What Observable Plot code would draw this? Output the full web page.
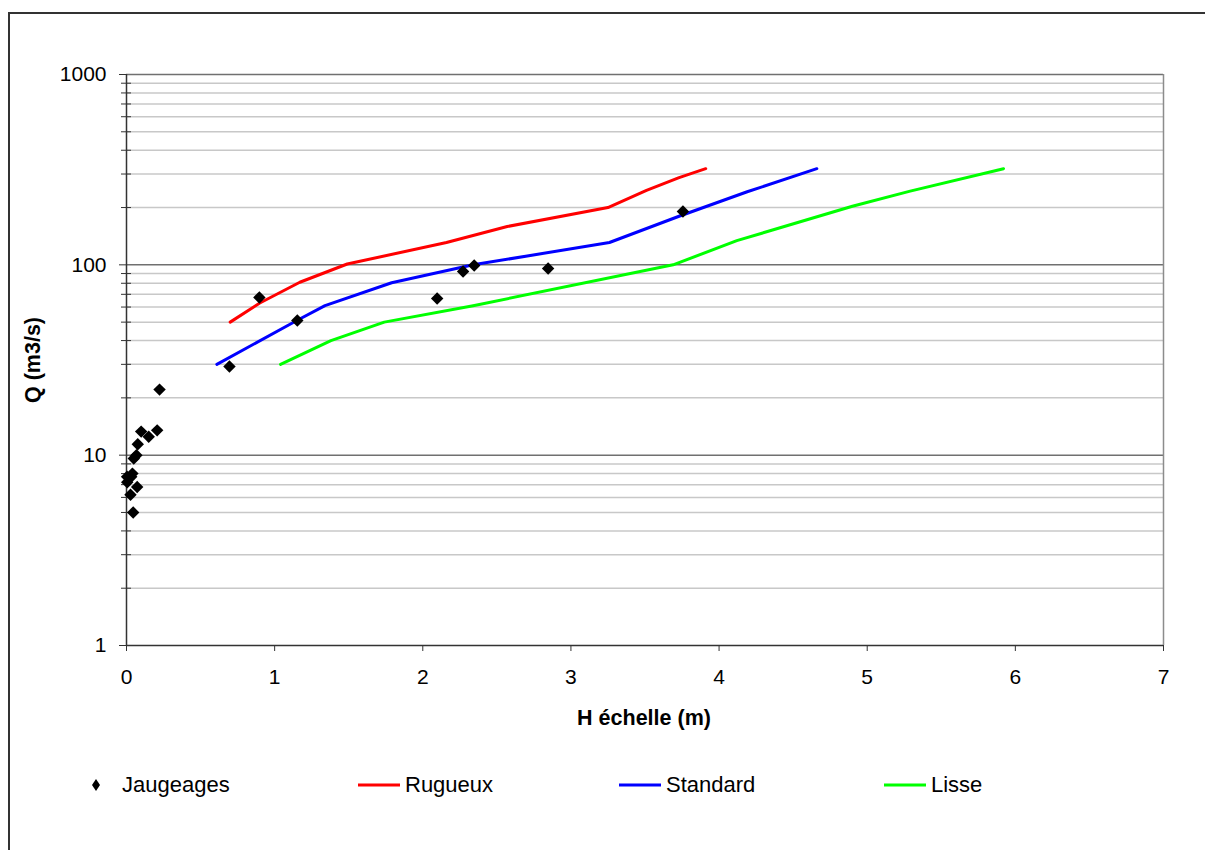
<!DOCTYPE html>
<html>
<head>
<meta charset="utf-8">
<script src="https://cdn.jsdelivr.net/npm/d3@7"></script>
<script src="https://cdn.jsdelivr.net/npm/@observablehq/plot@0.6"></script>
<style>
  body { margin: 0; background: #fff; font-family: "Liberation Sans", Arial, sans-serif; }
  #frame { position: absolute; left: 8px; top: 12px; width: 1300px; height: 900px;
           border-left: 2px solid #333; border-top: 2px solid #333; }
  #chart { position: absolute; left: 0; top: 0; }
  .axtitle { position: absolute; font-weight: bold; font-size: 21.5px; color: #000; white-space: nowrap; }
  #xlabel { left: 644px; top: 718px; transform: translate(-50%, -50%); }
  #ylabel { left: 33px; top: 360px; transform: translate(-50%, -50%) rotate(-90deg); }
  #legend { position: absolute; left: 0; top: 771px; width: 1205px; height: 28px; font-size: 22px; }
  .item { position: absolute; top: 0; height: 28px; display: flex; align-items: center; }
  .item svg { display: block; }
</style>
</head>
<body>
<div id="frame"></div>
<div id="chart"></div>
<div id="xlabel" class="axtitle"></div>
<div id="ylabel" class="axtitle"></div>
<div id="legend"></div>
<script>
// ---- Data ----
const xTitle = "H échelle (m)";
const yTitle = "Q (m3/s)";
const xTicks = [0, 1, 2, 3, 4, 5, 6, 7];
const yTicks = [1, 10, 100, 1000];

const jaugeH = [0.897, 1.153, 0.695, 2.097, 2.272, 2.347, 2.846, 3.756, 0.223, 0.207, 0.150, 0.099, 0.076, 0.067, 0.049, 0.032, 0.004, 0.005, 0.040, 0.072, 0.027, 0.045];
const jaugeQ = [67.4, 51, 29.2, 66.6, 92.3, 99.3, 95.7, 190.8, 22.1, 13.5, 12.5, 13.3, 11.4, 10.0, 9.6, 7.7, 7.7, 7.2, 8.0, 6.8, 6.2, 5.0];

const rugueuxH = [0.70, 0.90, 1.17, 1.49, 2.16, 2.57, 3.25, 3.51, 3.73, 3.91];
const rugueuxQ = [50, 63, 81, 101, 131, 159, 200, 246, 287, 320];

const standardH = [0.61, 1.15, 1.34, 1.79, 2.34, 3.26, 3.73, 4.19, 4.66];
const standardQ = [30, 51, 61, 80.5, 100, 131, 180, 242, 320];

const lisseH = [1.04, 1.38, 1.74, 2.34, 3.69, 4.12, 4.90, 5.29, 5.92];
const lisseQ = [30, 40, 50, 61, 100, 134, 203, 244, 320];

const seriesNames = ["Jaugeages", "Rugueux", "Standard", "Lisse"];
const seriesColors = ["#000000", "#ff0000", "#0000ff", "#00ff00"];

// ---- Build tables ----
const toRows = (H, Q) => H.map((h, i) => ({h, q: Q[i]}));
const jauge = toRows(jaugeH, jaugeQ);
const rug = toRows(rugueuxH, rugueuxQ);
const std = toRows(standardH, standardQ);
const lis = toRows(lisseH, lisseQ);

const minor = [];
for (const d of [1, 10, 100]) for (let k = 2; k <= 9; k++) minor.push(k * d);
const major = [10, 100, 1000];

const chart = Plot.plot({
  width: 1205,
  height: 740,
  marginLeft: 126,
  marginRight: 42,
  marginTop: 74,
  marginBottom: 95,
  x: {domain: [0, 7]},
  y: {type: "log", domain: [1, 1000]},
  style: {fontFamily: "Liberation Sans, Arial, sans-serif", fontSize: "21px", color: "#000", background: "transparent", overflow: "visible"},
  marks: [
    Plot.ruleY(minor, {stroke: "#c8c8c8", strokeWidth: 1.5}),
    Plot.ruleY(major, {stroke: "#707070", strokeWidth: 1.5}),
    Plot.ruleX([7], {stroke: "#8c8c8c", strokeWidth: 1.5}),
    Plot.axisY({ticks: minor, tickSize: 10, dx: 5, tickFormat: () => "", label: null, stroke: "#333"}),
    Plot.axisY({ticks: yTicks, tickSize: 7, tickPadding: 13, tickFormat: d => String(d), label: null, stroke: "#333", fill: "#000"}),
    Plot.axisX({ticks: xTicks, tickSize: 6, tickPadding: 18, tickFormat: d => String(d), label: null, stroke: "#333", fill: "#000"}),
    Plot.ruleX([0], {stroke: "#333", strokeWidth: 1.5}),
    Plot.ruleY([1], {stroke: "#333", strokeWidth: 1.5}),
    Plot.line(rug, {x: "h", y: "q", stroke: seriesColors[1], strokeWidth: 3}),
    Plot.line(std, {x: "h", y: "q", stroke: seriesColors[2], strokeWidth: 3}),
    Plot.line(lis, {x: "h", y: "q", stroke: seriesColors[3], strokeWidth: 3}),
    Plot.dot(jauge, {x: "h", y: "q", symbol: "diamond2", r: 5.6, fill: seriesColors[0], stroke: "none"})
  ]
});
document.getElementById("chart").appendChild(chart);
document.getElementById("xlabel").textContent = xTitle;
document.getElementById("ylabel").textContent = yTitle;

// ---- Legend ----
const legend = document.getElementById("legend");
const keyLeft = [88, 358, 619, 884];
seriesNames.forEach((name, i) => {
  const item = document.createElement("div");
  item.className = "item";
  item.style.left = keyLeft[i] + "px";
  let sw;
  if (i === 0) {
    sw = `<svg width="34" height="20"><path d="M8,4 L12,10 L8,16 L4,10 Z" fill="${seriesColors[0]}"/></svg>`;
  } else {
    sw = `<svg width="47" height="20"><line x1="0" y1="10" x2="42" y2="10" stroke="${seriesColors[i]}" stroke-width="3"/></svg>`;
  }
  item.innerHTML = sw + `<span>${name}</span>`;
  legend.appendChild(item);
});
</script>
</body>
</html>
